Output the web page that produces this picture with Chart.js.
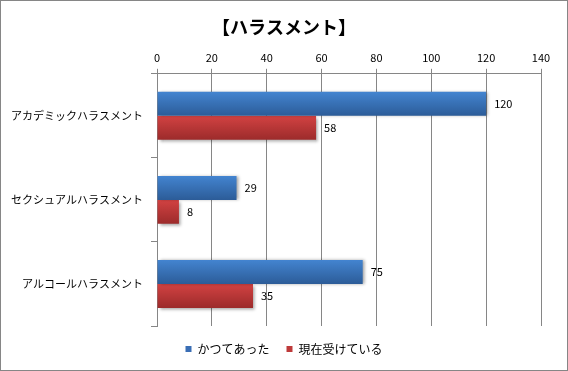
<!DOCTYPE html>
<html><head><meta charset="utf-8">
<script src="https://cdn.jsdelivr.net/npm/chart.js@4/dist/chart.umd.min.js"></script>
<style>
html,body{margin:0;padding:0;background:#fff;}
#wrap{position:absolute;left:0;top:0;width:566px;height:369px;border:1px solid #868686;box-shadow:1px 1px 0 #b0b0b0;}
canvas{display:block;}
</style></head>
<body><div id="wrap"><canvas id="c" width="566" height="369"></canvas></div>
<script>
const categories = ['アカデミックハラスメント', 'セクシュアルハラスメント', 'アルコールハラスメント'];
const seriesNames = ['かつてあった', '現在受けている'];
const pastValues = [120, 29, 75];
const currentValues = [58, 8, 35];
const xTicks = [0, 20, 40, 60, 80, 100, 120, 140];

const FONT = '"Noto Sans CJK JP", "Noto Sans", sans-serif';
const CAT_PCT = 0.57;
const palettes = [
  {top:'#4384d0', bottom:'#2c5c98', flat:'#3A6EB5'},
  {top:'#d24242', bottom:'#9c2b2b', flat:'#BE3A3A'}
];

function grad(c){
  const chart = c.chart, p = palettes[c.datasetIndex];
  const ys = chart.scales && chart.scales.y;
  if(!ys || !chart.chartArea || c.dataIndex == null) return p.flat;
  const center = ys.getPixelForValue(c.dataIndex);
  const catH = (ys.bottom - ys.top) / categories.length;
  const h = catH * CAT_PCT / 2;
  const y0 = c.datasetIndex === 0 ? center - h : center;
  const g = chart.ctx.createLinearGradient(0, y0, 0, y0 + h);
  g.addColorStop(0, p.top);
  g.addColorStop(1, p.bottom);
  return g;
}

const shadowPlugin = {
  id:'shadow',
  beforeDatasetDraw(chart, args){
    const ctx = chart.ctx; ctx.save();
    ctx.shadowColor = 'rgba(0,0,0,0.35)';
    ctx.shadowBlur = 3;
    ctx.shadowOffsetX = 2;
    ctx.shadowOffsetY = args.index === 1 ? 2 : 0;
  },
  afterDatasetDraw(chart){ chart.ctx.restore(); }
};

const labelPlugin = {
  id:'vals',
  afterDatasetsDraw(chart){
    const ctx = chart.ctx;
    ctx.save();
    ctx.font = '11px ' + FONT;
    ctx.fillStyle = '#000';
    ctx.textBaseline = 'middle';
    ctx.textAlign = 'left';
    chart.data.datasets.forEach((ds, i) => {
      chart.getDatasetMeta(i).data.forEach((el, j) => {
        ctx.fillText(String(ds.data[j]), el.x + 8, el.y);
      });
    });
    ctx.restore();
  }
};

new Chart(document.getElementById('c'), {
  type:'bar',
  data:{
    labels: categories,
    datasets:[
      {label: seriesNames[0], data: pastValues, backgroundColor: grad, borderWidth:0, categoryPercentage: CAT_PCT, barPercentage:1},
      {label: seriesNames[1], data: currentValues, backgroundColor: grad, borderWidth:0, categoryPercentage: CAT_PCT, barPercentage:1}
    ]
  },
  options:{
    indexAxis:'y',
    responsive:false,
    animation:false,
    layout:{padding:{left:0, right:0, top:0, bottom:5}},
    plugins:{
      title:{display:true, text:'【ハラスメント】', color:'#000', font:{family:FONT, size:18, weight:'bold'}, padding:{top:15, bottom:10}},
      legend:{position:'bottom', labels:{color:'#000', font:{family:FONT, size:12}, boxWidth:6, boxHeight:6, padding:17,
        generateLabels(chart){
          return chart.data.datasets.map((d,i)=>({text:d.label, fillStyle:palettes[i].flat, strokeStyle:palettes[i].flat, lineWidth:0, datasetIndex:i}));
        }}},
      tooltip:{enabled:false}
    },
    scales:{
      x:{position:'top', min:0, max:140,
        afterBuildTicks(s){ s.ticks = xTicks.map(v=>({value:v})); },
        afterFit(s){ s.paddingRight = 26; },
        ticks:{color:'#000', font:{family:FONT, size:11}, padding:4},
        grid:{color:'#868686', tickLength:5, drawTicks:true},
        border:{display:true, color:'#868686'}},
      y:{
        ticks:{color:'#000', font:{family:FONT, size:11}, padding:8},
        grid:{offset:true, drawOnChartArea:false, color:'#868686', tickLength:6},
        border:{display:true, color:'#868686'},
        afterFit(s){ s.width = 156; }
      }
    }
  },
  plugins:[shadowPlugin, labelPlugin]
});
</script></body></html>
